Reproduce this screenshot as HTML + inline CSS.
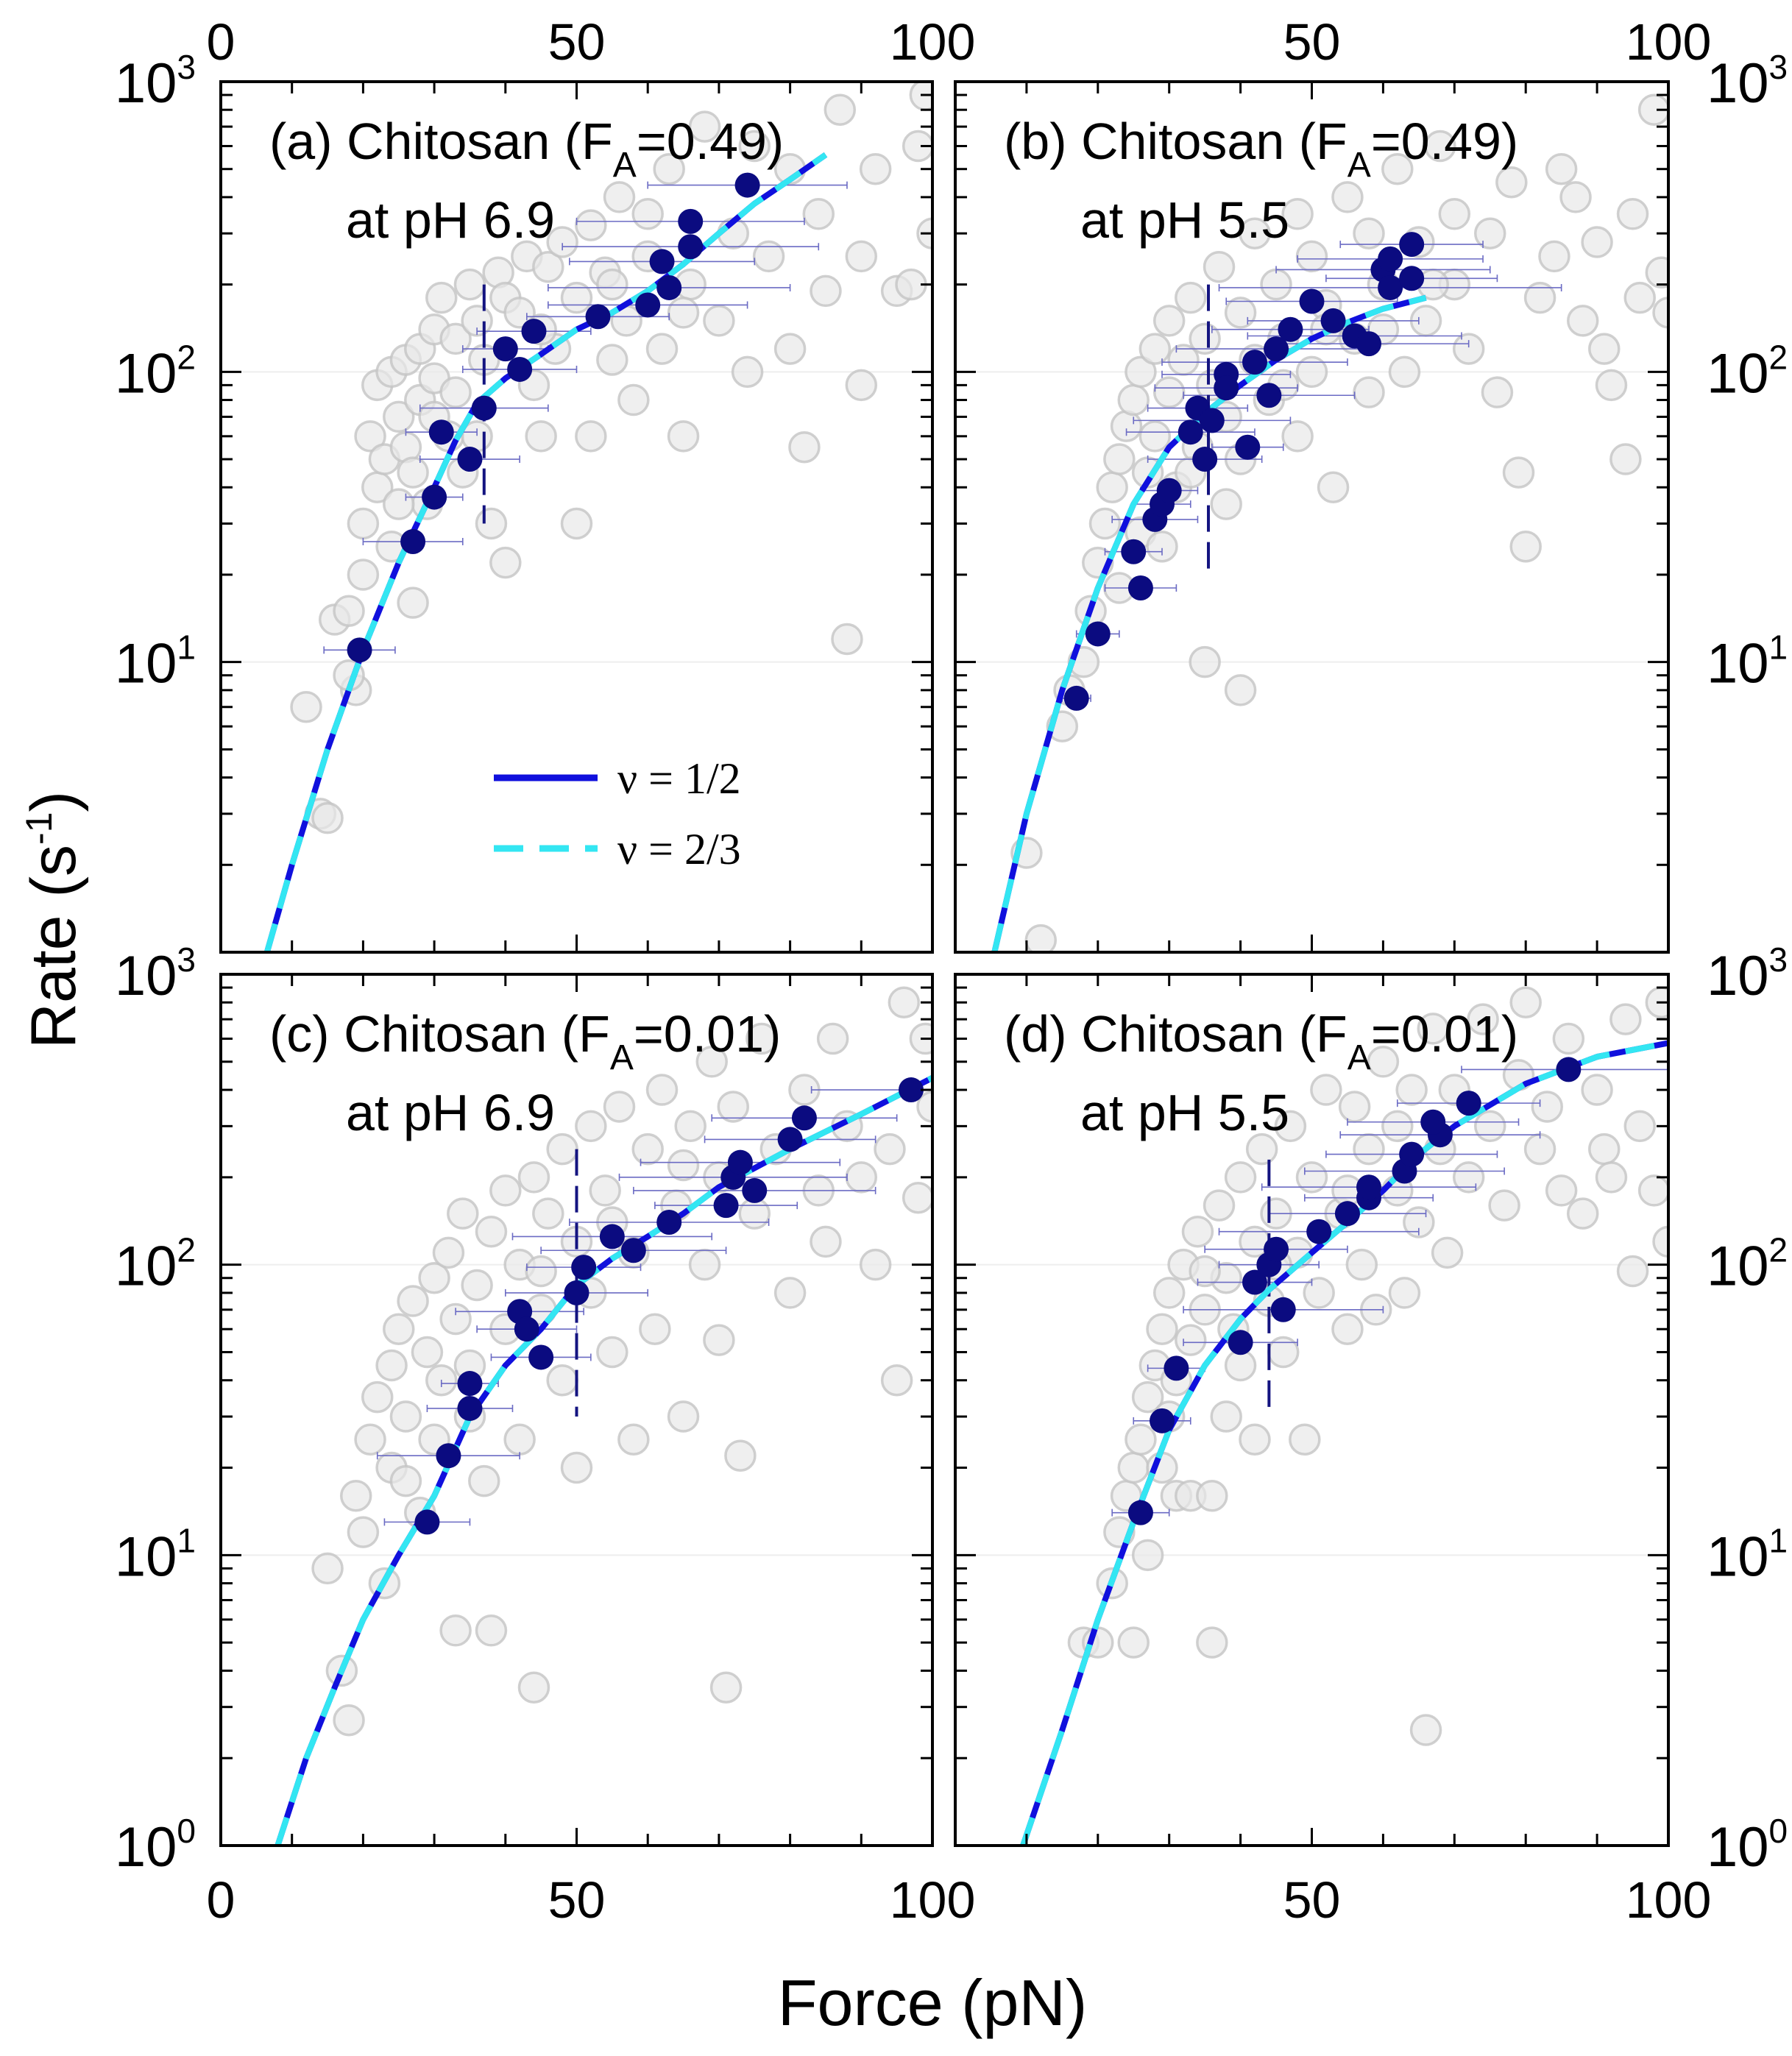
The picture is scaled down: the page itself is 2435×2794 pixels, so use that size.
<!DOCTYPE html>
<html><head><meta charset="utf-8">
<style>
html,body{margin:0;padding:0;background:#fff;}
svg{display:block;font-family:"Liberation Sans",Arial,sans-serif;}
</style></head>
<body>
<svg id="fig" width="2435" height="2794" viewBox="0 0 2435 2794" xmlns="http://www.w3.org/2000/svg">
<text x="1267" y="2752" font-size="88" text-anchor="middle">Force (pN)</text>
<text x="0" y="0" font-size="86" text-anchor="middle" transform="translate(102,1250) rotate(-90)">Rate (s<tspan font-size="50" dy="-32">-1</tspan><tspan dy="32">)</tspan></text>
</svg>
<script>
// ---- data ----
const greyA=[[12,7],[14,3],[15,2.9],[16,14],[18,15],[19,8],[20,30],[21,60],[22,40],[22,90],[23,50],[24,100],[24,25],[25,70],[26,55],[26,110],[27,16],[27,45],[28,120],[28,80],[29,35],[30,140],[30,95],[31,180],[32,60],[33,130],[34,45],[35,200],[36,150],[37,110],[38,30],[39,220],[40,180],[40,22],[42,160],[43,250],[44,90],[45,60],[46,230],[47,120],[48,280],[50,180],[50,30],[52,60],[52,320],[54,220],[55,110],[56,400],[57,150],[58,80],[60,350],[60,250],[62,120],[63,500],[65,60],[66,200],[68,700],[70,150],[72,300],[74,100],[75,600],[77,250],[80,500],[80,120],[82,55],[84,350],[85,190],[87,800],[88,12],[90,250],[90,90],[92,500],[95,190],[97,200],[98,600],[99,900],[100,300],[20,20],[25,35],[30,70],[33,85],[36,60],[45,140],[55,200],[65,160],[18,9]];
const greyB=[[10,2.2],[12,1.1],[15,6],[16,8],[18,10],[19,15],[20,22],[21,30],[22,40],[23,50],[23,18],[24,65],[25,80],[26,28],[26,100],[27,45],[28,120],[28,60],[29,25],[30,150],[30,85],[31,40],[32,110],[33,180],[34,55],[35,130],[35,10],[36,90],[37,230],[38,70],[38,35],[40,160],[40,8],[42,300],[42,110],[44,80],[45,200],[46,130],[48,350],[48,60],[50,250],[50,100],[52,170],[53,40],[55,400],[56,130],[58,300],[58,85],[60,200],[62,500],[63,100],[65,280],[66,150],[68,600],[70,200],[70,350],[72,120],[75,300],[76,85],[78,450],[79,45],[80,25],[82,180],[84,250],[85,500],[87,400],[88,150],[90,280],[91,120],[92,90],[94,50],[95,350],[96,180],[98,800],[99,220],[100,160],[33,45],[40,50],[46,90],[52,140],[60,140],[67,200]];
const greyC=[[15,9],[17,4],[18,2.7],[19,16],[20,12],[21,25],[22,35],[23,8],[24,45],[24,20],[25,60],[26,30],[27,75],[28,14],[29,50],[30,90],[30,25],[31,40],[32,110],[33,5.5],[33,65],[34,150],[35,30],[36,85],[37,18],[38,130],[38,5.5],[40,60],[40,180],[42,100],[42,25],[44,200],[44,3.5],[45,70],[46,150],[48,40],[48,250],[50,120],[50,20],[52,300],[52,80],[54,180],[55,50],[56,350],[58,110],[58,25],[60,250],[61,60],[62,400],[64,160],[65,30],[66,300],[68,100],[69,500],[70,200],[70,55],[71,3.5],[72,350],[73,22],[75,150],[76,600],[78,250],[80,80],[82,400],[84,180],[85,120],[86,600],[88,300],[90,200],[92,100],[94,250],[95,40],[96,800],[98,170],[99,600],[100,350],[26,18],[35,45],[45,95],[55,140],[65,220]];
const greyD=[[18,5],[20,5],[22,8],[23,12],[24,16],[25,20],[25,5],[26,25],[27,10],[27,35],[28,45],[29,20],[29,60],[30,80],[31,16],[31,40],[32,100],[33,55],[33,16],[34,130],[35,70],[36,5],[36,16],[37,160],[38,90],[38,30],[39,60],[40,200],[40,45],[42,120],[42,25],[43,250],[44,75],[45,150],[46,50],[47,300],[48,110],[49,25],[50,200],[51,80],[52,400],[54,150],[55,60],[56,350],[57,100],[58,250],[59,70],[60,500],[62,180],[63,80],[64,400],[65,140],[66,2.5],[67,650],[68,250],[69,110],[70,400],[72,200],[74,700],[75,300],[77,160],[79,450],[80,800],[82,250],[83,350],[85,180],[86,600],[88,150],[90,400],[91,250],[92,200],[94,700],[95,95],[96,300],[98,180],[99,800],[100,120],[35,95],[45,100],[55,180],[62,300],[30,30]];

const meanA=[[19.5,11],[27,26],[30,37],[31,62],[35,50],[37,75],[40,120],[42,102],[44,138],[53,155],[60,170],[62,240],[63,195],[66,270],[66,330],[74,440]];
const errA=[5,7,4,5,7,9,6,8,8,10,14,13,17,18,16,14];
const meanB=[[17,7.5],[20,12.5],[25,24],[26,18],[28,31],[29,35],[30,39],[33,62],[34,75],[35,50],[36,68],[38,98],[38,88],[41,55],[42,108],[44,83],[45,120],[47,140],[50,175],[53,150],[56,133],[58,125],[60,225],[61,245],[61,195],[64,210],[64,275]];
const errB=[2,3,4,5,6,4,4,9,7,8,11,9,10,5,13,12,14,11,12,12,15,14,15,13,24,12,10];
const meanC=[[29,13],[32,22],[35,32],[35,39],[42,69],[43,60],[45,48],[50,80],[51,98],[55,125],[58,112],[63,140],[71,160],[72,200],[73,225],[75,180],[80,270],[82,320],[97,400]];
const errC=[6,10,6,4,9,7,7,10,8,14,13,14,10,16,14,17,12,13,14];
const meanD=[[26,14],[29,29],[31,44],[40,54],[42,87],[44,100],[45,113],[46,70],[51,130],[55,150],[58,170],[58,185],[63,210],[64,240],[68,280],[67,310],[72,360],[86,470]];
const errD=[4,4,4,8,8,7,10,14,14,11,9,15,14,12,14,12,10,15];

const curveA=[[6.5,1],[10,2],[15,5],[20,11],[25,22],[30,40],[33,58],[36,78],[40,95],[45,115],[50,140],[55,160],[60,190],[65,235],[70,300],[75,380],[80,460],[85,560]];
const curveB=[[5.5,1],[10,3],[15,8],[20,18],[25,35],[30,55],[35,72],[40,90],[45,110],[50,130],[55,148],[60,165],[66,180]];
const curveC=[[8,1],[12,2],[16,3.5],[20,6],[25,10],[30,16],[35,30],[40,45],[45,60],[50,85],[55,105],[60,125],[65,150],[70,185],[80,250],[90,330],[100,440]];
const curveD=[[9.5,1],[15,2.5],[20,6],[25,13],[30,27],[35,45],[40,65],[44,82],[50,110],[55,140],[60,180],[65,240],[70,300],[80,420],[90,520],[100,580]];
const vlineA=[37,30,200], vlineB=[35.5,20,200], vlineC=[50,30,250], vlineD=[44,30,230];
const titles=[["(a) Chitosan (F","=0.49)","at pH 6.9"],["(b) Chitosan (F","=0.49)","at pH 5.5"],["(c) Chitosan (F","=0.01)","at pH 6.9"],["(d) Chitosan (F","=0.01)","at pH 5.5"]];
const xTicks=[0,50,100];
const yExp=[0,1,2,3];

// ---- drawing ----
const NS="http://www.w3.org/2000/svg";
const svg=document.getElementById('fig');
function mk(tag,attrs,parent){const e=document.createElementNS(NS,tag);for(const k in attrs)e.setAttribute(k,attrs[k]);(parent||svg).appendChild(e);return e;}
const panels=[
 {x0:300,x1:1267,y0:111,y1:1294,grey:greyA,mean:meanA,err:errA,curve:curveA,vl:vlineA,t:titles[0],name:'a'},
 {x0:1298,x1:2267,y0:111,y1:1294,grey:greyB,mean:meanB,err:errB,curve:curveB,vl:vlineB,t:titles[1],name:'b'},
 {x0:300,x1:1267,y0:1324,y1:2508,grey:greyC,mean:meanC,err:errC,curve:curveC,vl:vlineC,t:titles[2],name:'c'},
 {x0:1298,x1:2267,y0:1324,y1:2508,grey:greyD,mean:meanD,err:errD,curve:curveD,vl:vlineD,t:titles[3],name:'d'}];
panels.forEach((p,i)=>{
 const X=f=>p.x0+(p.x1-p.x0)*f/100;
 const Y=r=>p.y1-(p.y1-p.y0)*Math.log10(r)/3;
 const g=mk('g',{});
 
 
 const cp=mk('clipPath',{id:'cp'+i},g);
 mk('rect',{x:p.x0,y:p.y0,width:p.x1-p.x0,height:p.y1-p.y0},cp);
 const inner=mk('g',{'clip-path':'url(#cp'+i+')'},g);
 for(let e=1;e<3;e++){const l=mk('line',{x1:p.x0,x2:p.x1,y1:Y(10**e),y2:Y(10**e),stroke:'#eee','stroke-width':2},inner);}
 p.grey.forEach(d=>{const c=mk('circle',{cx:X(d[0]),cy:Y(d[1]),r:20,fill:'#e8e8e8','fill-opacity':0.7,stroke:'#c4c4c4','stroke-width':3.5,'stroke-opacity':0.8},inner);
  });
 p.mean.forEach((d,k)=>{const w=p.err[k],y=Y(d[1]);
  const eb=mk('path',{d:`M${X(d[0]-w)},${y}H${X(d[0]+w)}M${X(d[0]-w)},${y-5}v10M${X(d[0]+w)},${y-5}v10`,stroke:'#6b6bc4','stroke-width':1.6,fill:'none'},inner);
  });
 const vl=mk('line',{x1:X(p.vl[0]),x2:X(p.vl[0]),y1:Y(p.vl[2]),y2:Y(p.vl[1]),stroke:'#141480','stroke-width':4,'stroke-dasharray':'36,14'},inner);
 
 function smooth(pts){let s=`M${X(pts[0][0])},${Y(pts[0][1])}`;for(let k=1;k<pts.length;k++)s+=`L${X(pts[k][0])},${Y(pts[k][1])}`;return s;}
 const c1=mk('path',{d:smooth(p.curve),stroke:'#1010dd','stroke-width':8,fill:'none','stroke-linejoin':'round'},inner);
 
 const c2=mk('path',{d:smooth(p.curve),stroke:'#33e6f2','stroke-width':8,fill:'none','stroke-dasharray':'40,22','stroke-linejoin':'round'},inner);
 
 p.mean.forEach(d=>{const c=mk('circle',{cx:X(d[0]),cy:Y(d[1]),r:17,fill:'#0b0b80'},inner);
  });
 const fr=mk('rect',{x:p.x0,y:p.y0,width:p.x1-p.x0,height:p.y1-p.y0,fill:'none',stroke:'#000','stroke-width':4},g);
 
 for(let f=0;f<=100;f+=10){const L=(f%50===0)?24:16;
  mk('line',{x1:X(f),x2:X(f),y1:p.y1,y2:p.y1-L,stroke:'#000','stroke-width':3},g);
  mk('line',{x1:X(f),x2:X(f),y1:p.y0,y2:p.y0+L,stroke:'#000','stroke-width':3},g);}
 for(let e=0;e<3;e++)for(let m=1;m<=9;m++){const y=Y(m*10**e);const L=m===1?28:16;
  mk('line',{x1:p.x0,x2:p.x0+L,y1:y,y2:y,stroke:'#000','stroke-width':3},g);
  mk('line',{x1:p.x1,x2:p.x1-L,y1:y,y2:y,stroke:'#000','stroke-width':3},g);}
 const tx=p.x0+66, ty=p.y0+105;
 const t1=mk('text',{x:tx,y:ty,'font-size':70},g);t1.textContent=p.t[0];
 
 const s=mk('tspan',{'font-size':48,dy:24},t1);s.textContent='A';
 const s2=mk('tspan',{dy:-24},t1);s2.textContent=p.t[1];
 const t2=mk('text',{x:p.x0+170,y:p.y0+212,'font-size':70},g);t2.textContent=p.t[2];
 
 const isTop=i<2, isLeft=i%2===0;
 xTicks.forEach(v=>{if(!isLeft&&v===0)return;
  const ly=isTop?p.y0-30:p.y1+98;
  const t=mk('text',{x:X(v),y:ly,'font-size':70,'text-anchor':'middle'},g);t.textContent=String(v);
  });
 yExp.forEach(e=>{
  if(isTop&&e===0)return;
  const y=Y(10**e)+28;
  const t=mk('text',{x:isLeft?p.x0-34:p.x1+52,y:y,'font-size':76,'text-anchor':isLeft?'end':'start'},g);
  
  t.textContent='10';const sp=mk('tspan',{'font-size':46,dy:-32},t);sp.textContent=String(e);});
});
const lg=mk('g',{});
mk('line',{x1:671,x2:812,y1:1057,y2:1057,stroke:'#1010dd','stroke-width':9},lg);
mk('line',{x1:671,x2:812,y1:1153,y2:1153,stroke:'#33e6f2','stroke-width':9,'stroke-dasharray':'40,22'},lg);
const l1=mk('text',{x:839,y:1078,'font-size':60,'font-family':'Liberation Serif, serif'},lg);l1.textContent='ν = 1/2';

const l2=mk('text',{x:839,y:1174,'font-size':60,'font-family':'Liberation Serif, serif'},lg);l2.textContent='ν = 2/3';

</script>
</body></html>
